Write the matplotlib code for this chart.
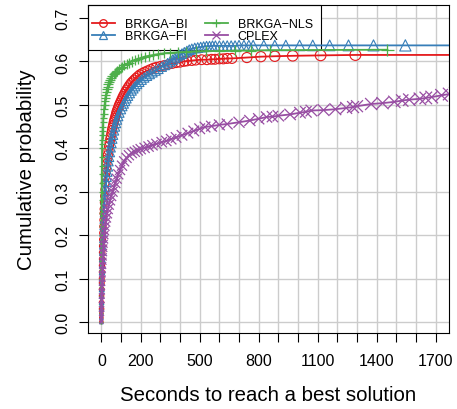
import matplotlib
matplotlib.use('Agg')
import matplotlib.pyplot as plt
from matplotlib.lines import Line2D
from matplotlib.patches import Rectangle
import numpy as np

plt.rcParams['font.family'] = ['Liberation Sans', 'DejaVu Sans']

# ---------------- data: (seconds, cumulative probability) ----------------
bi_points = [(0, 0), (0, 0.01), (0, 0.02), (1, 0.03), (1, 0.045), (1, 0.06), (2, 0.075), (2, 0.09),
             (2, 0.1), (3, 0.115), (3, 0.13), (4, 0.145), (4, 0.16), (5, 0.175), (6, 0.19),
             (7, 0.205), (8, 0.22), (9, 0.235), (10, 0.25), (11, 0.26), (13, 0.275), (15, 0.29),
             (17, 0.305), (19, 0.32), (21, 0.335), (23, 0.345), (25, 0.355), (27, 0.365),
             (30, 0.375), (33, 0.385), (36, 0.395), (39, 0.405), (42, 0.413), (45, 0.421),
             (48, 0.428), (51, 0.435), (54, 0.442), (57, 0.448), (60, 0.454), (63, 0.46),
             (66, 0.465), (69, 0.47), (72, 0.475), (75, 0.48), (78, 0.485), (82, 0.49),
             (86, 0.495), (90, 0.5), (95, 0.505), (100, 0.51), (105, 0.515), (110, 0.52),
             (116, 0.525), (122, 0.53), (128, 0.535), (135, 0.54), (142, 0.545), (150, 0.55),
             (158, 0.554), (167, 0.558), (176, 0.562), (186, 0.566), (196, 0.57), (208, 0.573),
             (220, 0.576), (235, 0.579), (250, 0.582), (265, 0.585), (280, 0.587), (300, 0.589),
             (320, 0.591), (340, 0.593), (360, 0.595), (380, 0.597), (400, 0.598), (420, 0.6),
             (435, 0.601), (460, 0.602), (480, 0.603), (510, 0.604), (537, 0.604), (560, 0.605),
             (578, 0.605), (600, 0.606), (620, 0.606), (640, 0.607), (664, 0.607), (740, 0.609),
             (811, 0.611), (882, 0.612), (973, 0.613), (1115, 0.614), (1292, 0.615),
             (1800, 0.615)]

fi_points = [(0, 0), (0, 0.01), (0, 0.02), (1, 0.03), (1, 0.045), (1, 0.06), (2, 0.075), (2, 0.09),
             (2, 0.1), (3, 0.115), (3, 0.13), (4, 0.145), (5, 0.16), (6, 0.175), (7, 0.19),
             (8, 0.205), (9, 0.22), (10, 0.235), (12, 0.25), (14, 0.265), (16, 0.28), (18, 0.29),
             (20, 0.3), (22, 0.31), (25, 0.322), (28, 0.334), (31, 0.346), (34, 0.358), (37, 0.37),
             (40, 0.38), (44, 0.391), (48, 0.402), (52, 0.412), (56, 0.422), (60, 0.431),
             (65, 0.441), (70, 0.45), (75, 0.458), (80, 0.466), (86, 0.474), (92, 0.482),
             (100, 0.49), (107, 0.497), (114, 0.503), (121, 0.509), (128, 0.515), (136, 0.521),
             (145, 0.527), (154, 0.533), (163, 0.538), (172, 0.543), (182, 0.548), (193, 0.553),
             (205, 0.558), (218, 0.563), (232, 0.567), (246, 0.571), (260, 0.575), (275, 0.579),
             (290, 0.583), (307, 0.588), (322, 0.592), (337, 0.596), (350, 0.6), (362, 0.604),
             (374, 0.608), (386, 0.612), (398, 0.615), (410, 0.618), (422, 0.621), (435, 0.624),
             (447, 0.627), (460, 0.629), (475, 0.631), (490, 0.632), (505, 0.633), (520, 0.634),
             (535, 0.635), (550, 0.635), (565, 0.636), (580, 0.636), (600, 0.636), (620, 0.636),
             (640, 0.636), (660, 0.636), (680, 0.636), (700, 0.637), (725, 0.637), (750, 0.637),
             (772, 0.637), (826, 0.637), (882, 0.637), (938, 0.637), (1008, 0.637),
             (1075, 0.637), (1161, 0.637), (1257, 0.637), (1384, 0.637), (1546, 0.637),
             (1800, 0.637)]

nls_points = [(0, 0), (0, 0.02), (0, 0.04), (0, 0.06), (0, 0.08), (0, 0.1), (0, 0.12), (0, 0.14),
              (0, 0.16), (0, 0.18), (0, 0.2), (1, 0.22), (1, 0.25), (1, 0.28), (2, 0.3),
              (2, 0.32), (2, 0.34), (3, 0.36), (3, 0.38), (4, 0.4), (4, 0.41), (5, 0.42),
              (6, 0.43), (7, 0.44), (8, 0.45), (9, 0.46), (10, 0.47), (12, 0.48), (14, 0.49),
              (16, 0.5), (18, 0.508), (20, 0.515), (23, 0.522), (26, 0.53), (29, 0.536),
              (32, 0.542), (36, 0.548), (40, 0.553), (45, 0.558), (50, 0.562), (56, 0.566),
              (62, 0.57), (68, 0.573), (75, 0.576), (82, 0.579), (90, 0.582), (98, 0.585),
              (107, 0.588), (117, 0.591), (128, 0.594), (140, 0.597), (155, 0.6), (170, 0.603),
              (185, 0.606), (200, 0.608), (220, 0.611), (240, 0.613), (265, 0.615), (290, 0.617),
              (320, 0.619), (350, 0.62), (390, 0.621), (430, 0.622), (480, 0.623), (530, 0.624),
              (600, 0.624), (680, 0.625), (760, 0.625), (860, 0.626), (1455, 0.627)]

cplex_points = [(0, 0), (0, 0.01), (1, 0.02), (1, 0.03), (1, 0.04), (2, 0.05), (2, 0.06), (3, 0.07),
                (3, 0.08), (4, 0.09), (5, 0.1), (5, 0.11), (6, 0.12), (7, 0.13), (8, 0.14),
                (9, 0.15), (10, 0.16), (11, 0.17), (12, 0.18), (14, 0.19), (15, 0.2), (17, 0.21),
                (19, 0.22), (22, 0.23), (25, 0.24), (29, 0.25), (33, 0.26), (38, 0.27), (44, 0.28),
                (50, 0.29), (57, 0.3), (64, 0.31), (71, 0.32), (78, 0.33), (86, 0.34), (95, 0.35),
                (105, 0.36), (116, 0.37), (128, 0.378), (140, 0.384), (155, 0.389), (170, 0.392),
                (185, 0.395), (200, 0.398), (220, 0.401), (240, 0.404), (260, 0.407), (280, 0.41),
                (307, 0.414), (330, 0.417), (355, 0.421), (380, 0.425), (410, 0.43), (440, 0.435),
                (470, 0.44), (500, 0.445), (527, 0.449), (560, 0.451), (600, 0.454), (640, 0.456),
                (700, 0.46), (755, 0.464), (800, 0.468), (840, 0.472), (870, 0.473), (900, 0.475),
                (960, 0.478), (1010, 0.482), (1040, 0.484), (1068, 0.487), (1130, 0.488),
                (1190, 0.49), (1245, 0.493), (1280, 0.495), (1300, 0.497), (1372, 0.502),
                (1430, 0.504), (1490, 0.507), (1530, 0.51), (1566, 0.512), (1620, 0.514),
                (1650, 0.516), (1680, 0.518), (1730, 0.522), (1769, 0.525), (1800, 0.527)]

labels = ['BRKGA\u2212BI', 'BRKGA\u2212FI', 'BRKGA\u2212NLS', 'CPLEX']
colors = ['#E41A1C', '#377EB8', '#4DAF4A', '#984EA3']
markers = ['o', '^', '+', 'x']

x_ticks = list(range(0, 1701, 100))
x_tick_labels = ['0', '', '200', '', '', '500', '', '', '800', '', '', '1100', '', '',
                 '1400', '', '', '1700']
y_ticks = [0.0, 0.1, 0.2, 0.3, 0.4, 0.5, 0.6, 0.7]
y_tick_labels = ['0.0', '0.1', '0.2', '0.3', '0.4', '0.5', '0.6', '0.7']

# ---------------- figure ----------------
W, H = 457, 410
fig = plt.figure(figsize=(W / 100, H / 100), dpi=100)
ax_l, ax_r, ax_t, ax_b = 88, 449, 6, 334
ax = fig.add_axes([ax_l / W, 1 - ax_b / H, (ax_r - ax_l) / W, (ax_b - ax_t) / H])

series = [bi_points, fi_points, nls_points, cplex_points]
for i, (pts, c, m) in enumerate(zip(series, colors, markers)):
    t = np.array([a for a, b in pts], float)
    p = np.array([b for a, b in pts], float)
    z = 3 + i
    ax.plot(t, p, color=c, lw=1.3, zorder=z)
    px = 3.5 + 5.5 * np.minimum(1, (t / 30) ** 0.5) + 2.5 * np.clip(t / 1700, 0, 1)
    s = (px * 0.72) ** 2
    if m in ('o', '^'):
        ax.scatter(t, p, s=s, marker=m, facecolors='none', edgecolors=c,
                   linewidths=0.8, zorder=z)
    else:
        ax.scatter(t, p, s=s * 1.2, marker=m, color=c, linewidths=0.9, zorder=z)

ax.set_xlim(-68, 1768)
ax.set_ylim(-0.0253, 0.730)
ax.set_xticks(x_ticks)
ax.set_xticklabels(x_tick_labels)
ax.set_yticks(y_ticks)
ax.set_yticklabels(y_tick_labels, rotation=90, va='center')
ax.tick_params(direction='out', length=6.5, width=0.8, labelsize=11.5, pad=6,
               colors='black')
ax.tick_params(axis='x', pad=8)
ax.grid(True, color='#cccccc', lw=1.0)
ax.set_axisbelow(True)
for sp in ax.spines.values():
    sp.set_linewidth(0.8)
    sp.set_color('black')

ax.set_xlabel('Seconds to reach a best solution', fontsize=14.7, labelpad=12)
ax.set_ylabel('Cumulative probability', fontsize=14.7, labelpad=14)

# legend box (white, black border) drawn below the data lines
leg_right, leg_bottom = 321, 51
box_w = (leg_right - ax_l) / (ax_r - ax_l)
box_h = (leg_bottom - ax_t) / (ax_b - ax_t)
ax.add_patch(Rectangle((0, 1 - box_h), box_w, box_h, transform=ax.transAxes,
                       facecolor='white', edgecolor='black', lw=0.8, zorder=1,
                       clip_on=False))

handles = [Line2D([], [], color=c, marker=m, markerfacecolor='none', markersize=5.5,
                  lw=1.3, markeredgewidth=0.9)
           for c, m in zip(colors, markers)]
leg = ax.legend(handles, labels, ncol=2, loc='center left',
                bbox_to_anchor=(0, 1 - box_h / 2 - 2.5 / (ax_b - ax_t)), borderaxespad=0,
                frameon=False, fontsize=9, handlelength=1.85, handletextpad=0.8,
                columnspacing=1.36, labelspacing=0.0, borderpad=0.3)
leg.set_zorder(1.5)

fig.savefig('out.png', dpi=100)
